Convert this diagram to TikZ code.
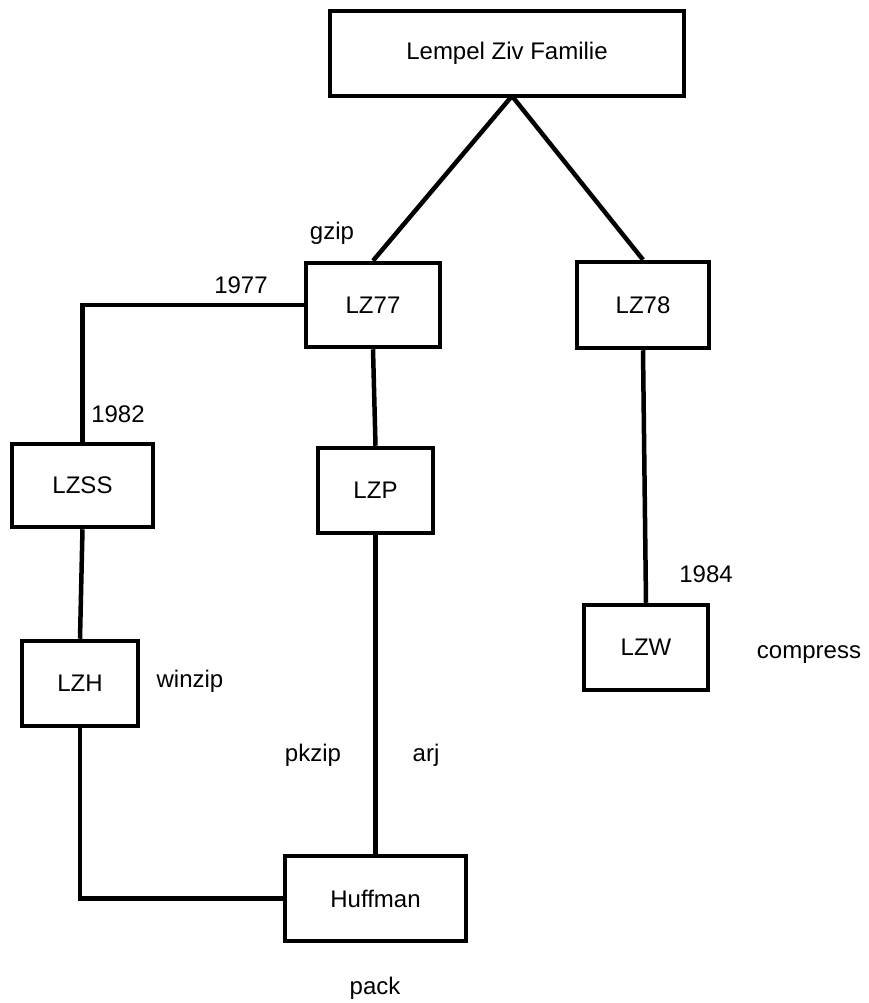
\documentclass[tikz,border=0pt]{standalone}
\usepackage{fontspec}
\setmainfont{Liberation Sans}
\begin{document}
\begin{tikzpicture}[x=1pt,y=-1pt,
  box/.style={draw=black,line width=4.5pt,minimum width=#1,inner sep=0pt,font=\fontsize{24}{28}\selectfont},
  lbl/.style={inner sep=0pt,font=\fontsize{24}{28}\selectfont},
  conn/.style={line width=4.5pt}]
\useasboundingbox (0,0) rectangle (868,1003);
\node[box=354pt,minimum height=85pt] (lz) at (507,53.5) {Lempel Ziv Familie};
\node[box=134pt,minimum height=84pt] (lz77) at (373,305) {LZ77};
\node[box=132pt,minimum height=86pt] (lz78) at (643,305) {LZ78};
\node[box=141pt,minimum height=83pt] (lzss) at (82.5,485.5) {LZSS};
\node[box=115pt,minimum height=85pt] (lzp) at (375.5,490.5) {LZP};
\node[box=124pt,minimum height=85pt] (lzw) at (646,647.5) {LZW};
\node[box=116pt,minimum height=85pt] (lzh) at (80,683.5) {LZH};
\node[box=181pt,minimum height=85pt] (huff) at (375.5,898.5) {Huffman};
\coordinate (apex) at (512,96);
\draw[conn] (apex) -- (lz77.north);
\draw[conn] (apex) -- (lz78.north);
\draw[conn] (lz77.west) -| (lzss.north);
\draw[conn] (lz77.south) -- (lzp.north);
\draw[conn] (lzss.south) -- (lzh.north);
\draw[conn] (lzp.south) -- (huff.north);
\draw[conn] (lzh.south) |- (huff.west);
\draw[conn] (lz78.south) -- (lzw.north);
\node[lbl] (gzip) at (332,233) {gzip};
\node[lbl] (y1977) at (241,285) {1977};
\node[lbl] (y1982) at (118,414) {1982};
\node[lbl] (winzip) at (190,681) {winzip};
\node[lbl] (pkzip) at (313,755) {pkzip};
\node[lbl] (arj) at (426,755) {arj};
\node[lbl] (y1984) at (706,574) {1984};
\node[lbl] (compress) at (809,655) {compress};
\node[lbl] (pack) at (375,988) {pack};
\end{tikzpicture}
\end{document}
